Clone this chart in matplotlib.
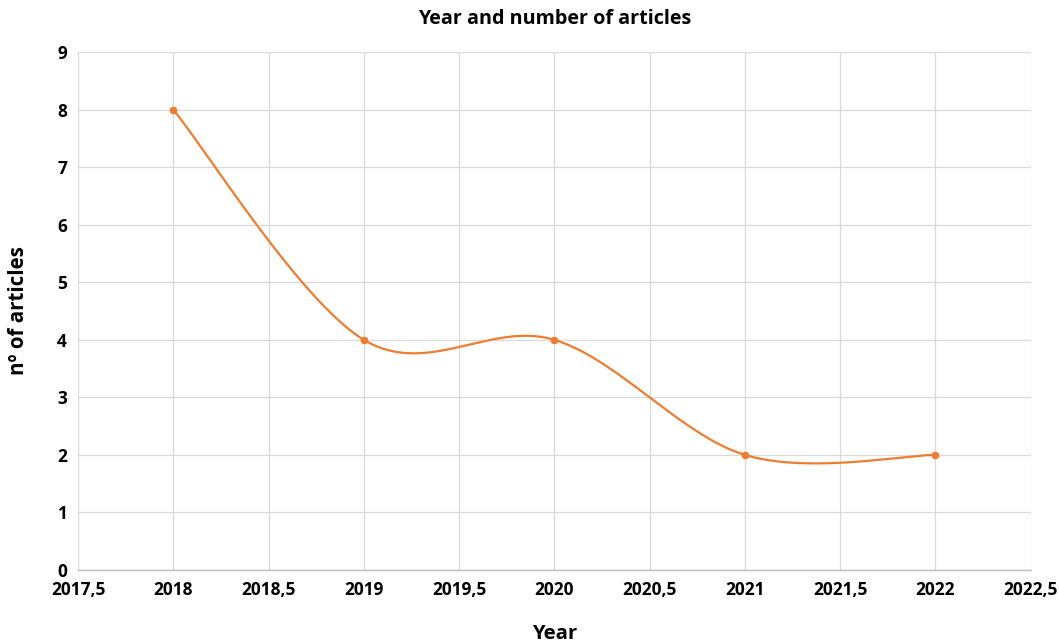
import numpy as np
from matplotlib import pyplot as plt
from matplotlib.ticker import FuncFormatter, MultipleLocator

# data
years = [2018, 2019, 2020, 2021, 2022]
articles = [8, 4, 4, 2, 2]

title = "Year and number of articles"
xlabel = "Year"
ylabel = "nº of articles"

orange = "#ED7D31"
grid_col = "#D9D9D9"


# excel style smooth line (bezier segments, tension 1/6)
def smoothLine(x, y, n=60):
    p = np.column_stack([x, y]).astype(float)
    pts = []
    for i in range(len(p) - 1):
        p0 = p[i - 1] if i > 0 else p[i]
        p1 = p[i]
        p2 = p[i + 1]
        p3 = p[i + 2] if i + 2 < len(p) else p[i + 1]
        c1 = p1 + (p2 - p0) / 6
        c2 = p2 - (p3 - p1) / 6
        t = np.linspace(0, 1, n)[:, None]
        seg = (1 - t) ** 3 * p1 + 3 * (1 - t) ** 2 * t * c1 + 3 * (1 - t) * t ** 2 * c2 + t ** 3 * p2
        pts.append(seg if i == 0 else seg[1:])
    pts = np.vstack(pts)
    return pts[:, 0], pts[:, 1]


plt.rcParams['font.family'] = ['Open Sans', 'DejaVu Sans']

fig = plt.figure(figsize=(10.59, 6.44), dpi=100)
ax = fig.add_axes([0.0737, 0.115, 0.8995, 0.804])

sx, sy = smoothLine(years, articles)
ax.plot(sx, sy, color=orange, linewidth=1.6, zorder=3)
ax.plot(years, articles, 'o', color=orange, markersize=4.5, zorder=4)

ax.set_xlim(2017.5, 2022.5)
ax.set_ylim(0, 9)
ax.xaxis.set_major_locator(MultipleLocator(0.5))
ax.yaxis.set_major_locator(MultipleLocator(1))
ax.xaxis.set_major_formatter(FuncFormatter(lambda v, p: ('%g' % v).replace('.', ',')))

ax.grid(True, color=grid_col, linewidth=0.9)
ax.set_axisbelow(True)
for s in ['top', 'right', 'left']:
    ax.spines[s].set_visible(False)
ax.spines['bottom'].set_color('#BFBFBF')
ax.spines['bottom'].set_linewidth(1.0)
ax.tick_params(length=0, labelsize=12.4, pad=8)
for lab in ax.get_xticklabels() + ax.get_yticklabels():
    lab.set_fontweight('bold')

ax.set_title(title, fontsize=14.2, fontweight='bold', pad=20)
ax.set_xlabel(xlabel, fontsize=14.6, fontweight='bold', labelpad=18)
ax.set_ylabel(ylabel, fontsize=14.8, fontweight='bold', labelpad=20)

fig.savefig('out.png', dpi=100, facecolor='white')
